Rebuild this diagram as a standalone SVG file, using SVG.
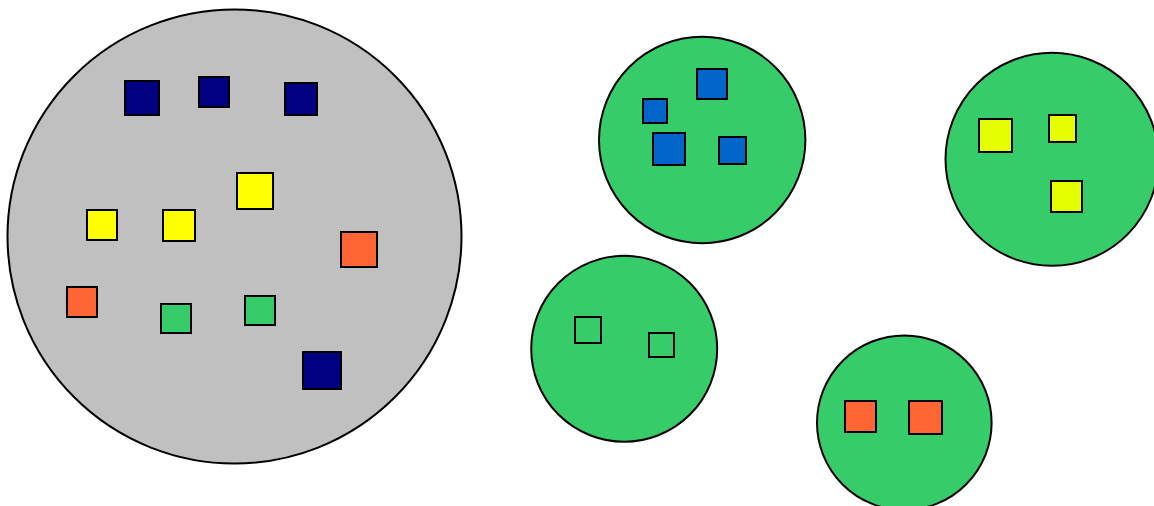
<svg xmlns="http://www.w3.org/2000/svg" width="1154" height="506" viewBox="0 0 1154 506">
<style>
.c{stroke:#000;stroke-width:2}
.s{stroke:#000;stroke-width:2}
.gray{fill:#c0c0c0}
.green{fill:#36cc6a}
.navy{fill:#000080}
.yel{fill:#ffff00}
.lime{fill:#e6ff00}
.org{fill:#ff6633}
.blue{fill:#0066cc}
</style>
<rect width="1154" height="506" fill="#fff"/>
<g id="all">
<circle class="c gray" cx="234.5" cy="236.5" r="227"/>
<rect class="s navy" x="125" y="81" width="34" height="34"/>
<rect class="s navy" x="199" y="77" width="30" height="30"/>
<rect class="s navy" x="285" y="83" width="32" height="32"/>
<rect class="s yel" x="237" y="173" width="36" height="36"/>
<rect class="s yel" x="87" y="210" width="30" height="30"/>
<rect class="s yel" x="163" y="210" width="32" height="31"/>
<rect class="s org" x="341" y="232" width="36" height="35"/>
<rect class="s org" x="67" y="287" width="30" height="30"/>
<rect class="s green" x="161" y="304" width="30" height="29"/>
<rect class="s green" x="245" y="296" width="30" height="29"/>
<rect class="s navy" x="303" y="352" width="38" height="37"/>
</g>
<g id="blues">
<circle class="c green" cx="702.2" cy="140" r="103.2"/>
<rect class="s blue" x="697" y="69" width="30" height="30"/>
<rect class="s blue" x="643" y="99" width="24" height="24"/>
<rect class="s blue" x="653" y="133" width="32" height="32"/>
<rect class="s blue" x="719" y="137" width="27" height="27"/>
</g>
<g id="greens">
<circle class="c green" cx="624.2" cy="348.8" r="93"/>
<rect class="s green" x="575" y="317" width="26" height="26"/>
<rect class="s green" x="649" y="333" width="25" height="24"/>
</g>
<g id="yellows">
<circle class="c green" cx="1052" cy="159.3" r="106.5"/>
<rect class="s lime" x="979" y="119" width="33" height="33"/>
<rect class="s lime" x="1049" y="115" width="27" height="27"/>
<rect class="s lime" x="1051" y="181" width="31" height="31"/>
</g>
<g id="oranges">
<circle class="c green" cx="904.3" cy="422.7" r="87.3"/>
<rect class="s org" x="845" y="401" width="31" height="31"/>
<rect class="s org" x="909" y="401" width="33" height="33"/>
</g>
<g id="connectors"/>
</svg>
